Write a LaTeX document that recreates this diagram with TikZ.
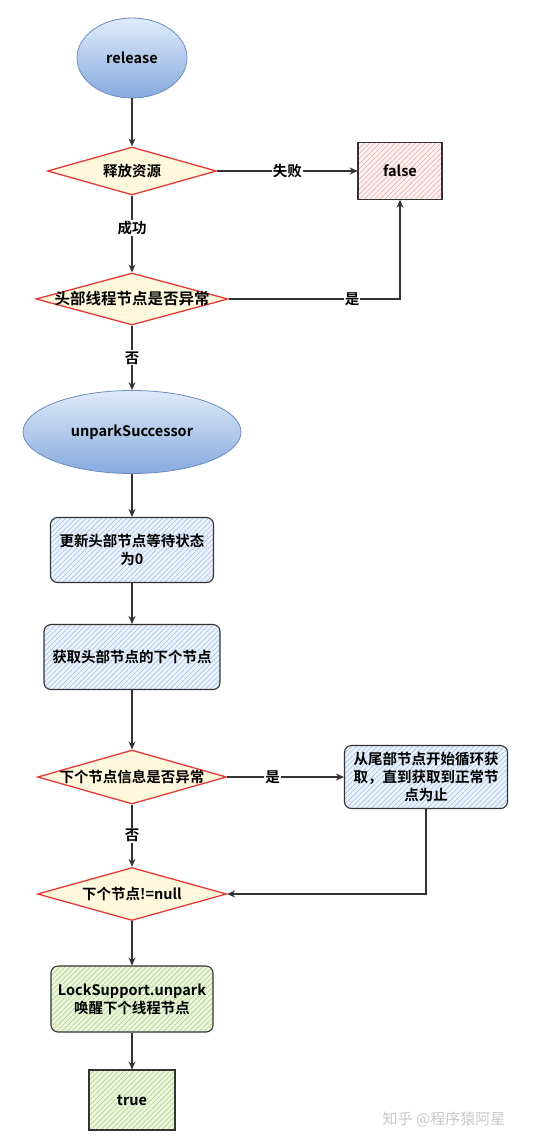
\documentclass[tikz,border=0pt]{standalone}
\usepackage{fontspec}
\setmainfont{Noto Sans CJK SC}[BoldFont={Noto Sans CJK SC Bold}]
\usetikzlibrary{shapes.geometric,arrows.meta,patterns.meta}
\definecolor{ellTop}{HTML}{E0EBFA}
\definecolor{ellBot}{HTML}{86A9DD}
\definecolor{ellLine}{HTML}{6C8EBF}
\definecolor{diaFill}{HTML}{FFF8DC}
\definecolor{diaLine}{HTML}{E53935}
\definecolor{boxLine}{HTML}{333333}
\definecolor{bluFill}{HTML}{EAF2FC}
\definecolor{bluHatch}{HTML}{A9C4E6}
\definecolor{redFill}{HTML}{FDF2F2}
\definecolor{redHatch}{HTML}{EFAAAA}
\definecolor{grnFill}{HTML}{EBF5DC}
\definecolor{grnHatch}{HTML}{B5D48A}
\definecolor{wmark}{HTML}{C8C8C8}
\tikzset{
  txtfont/.style={font=\fontsize{14.5}{18}\selectfont\bfseries},
  term/.style={ellipse, draw=ellLine, line width=0.8pt, top color=ellTop, bottom color=ellBot, inner sep=0pt, txtfont},
  dia/.style={diamond, draw=diaLine, line width=1.3pt, fill=diaFill, inner sep=0pt},
  dlbl/.style={txtfont, inner sep=0pt},
  hatchbox/.style={draw=boxLine, line width=1.1pt, align=center, txtfont, inner sep=2pt},
  blubox/.style={hatchbox, rounded corners=7pt, preaction={fill=bluFill}, pattern={Lines[angle=45,distance=3.6pt,line width=0.6pt]}, pattern color=bluHatch},
  grnbox/.style={hatchbox, rounded corners=7pt, preaction={fill=grnFill}, pattern={Lines[angle=45,distance=3.6pt,line width=0.6pt]}, pattern color=grnHatch},
  redbox/.style={hatchbox, preaction={fill=redFill}, pattern={Lines[angle=45,distance=3.6pt,line width=0.6pt]}, pattern color=redHatch},
  grnsq/.style={hatchbox, preaction={fill=grnFill}, pattern={Lines[angle=45,distance=3.6pt,line width=0.6pt]}, pattern color=grnHatch},
  conn/.style={draw=boxLine, line width=1.1pt, -{Stealth[length=8pt,width=7pt]}},
  elbl/.style={fill=white, inner sep=1pt, txtfont}
}
\begin{document}
\begin{tikzpicture}[x=1pt,y=-1pt]
\useasboundingbox (0,0) rectangle (537,1144);

\node[term, minimum width=110pt, minimum height=80pt] (rel) at (132,58) {release};
\node[dia, minimum width=169pt, minimum height=48pt,
      label={[dlbl]center:释放资源}] (d1) at (132,171) {};
\node[redbox, minimum width=84pt, minimum height=57pt] (fls) at (400,171) {false};
\node[dia, minimum width=192pt, minimum height=52pt,
      label={[dlbl, font=\fontsize{15.5}{18}\selectfont\bfseries]center:头部线程节点是否异常}] (d2) at (132,299) {};
\node[term, minimum width=218pt, minimum height=83pt] (us) at (132,432) {unparkSuccessor};
\node[blubox, minimum width=163pt, minimum height=65pt] (b1) at (132,550) {更新头部节点等待状态\\为0};
\node[blubox, minimum width=176pt, minimum height=65pt] (b2) at (132,657) {获取头部节点的下个节点};
\node[dia, minimum width=189pt, minimum height=54pt,
      label={[dlbl]center:下个节点信息是否异常}] (d3) at (132,777) {};
\node[blubox, minimum width=163pt, minimum height=63pt] (b3) at (426,777) {从尾部节点开始循环获\\取，直到获取到正常节\\点为止};
\node[dia, minimum width=189pt, minimum height=53pt,
      label={[dlbl]center:下个节点!=null}] (d4) at (132,894) {};
\node[grnbox, minimum width=162pt, minimum height=66pt] (b4) at (132,999) {LockSupport.unpark\\唤醒下个线程节点};
\node[grnsq, minimum width=86pt, minimum height=60pt] (tru) at (132,1100) {true};

\node[text=wmark, font=\fontsize{15}{17}\selectfont, inner sep=0pt] (wm) at (444,1119) {知乎 @程序猿阿星};

\draw[conn] (rel.south) -- (d1.north);
\draw[conn] (d1.east) -- node[elbl] {失败} (fls.west);
\draw[conn] (d1.south) -- node[elbl, pos=0.42] {成功} (d2.north);
\draw[conn] (d2.east) -| node[elbl, pos=0.36] {是} (fls.south);
\draw[conn] (d2.south) -- node[elbl] {否} (us.north);
\draw[conn] (us.south) -- (b1.north);
\draw[conn] (b1.south) -- (b2.north);
\draw[conn] (b2.south) -- (d3.north);
\draw[conn] (d3.east) -- node[elbl, pos=0.39] {是} (b3.west);
\draw[conn] (d3.south) -- node[elbl] {否} (d4.north);
\draw[conn] (b3.south) |- (d4.east);
\draw[conn] (d4.south) -- (b4.north);
\draw[conn] (b4.south) -- (tru.north);
\end{tikzpicture}
\end{document}
